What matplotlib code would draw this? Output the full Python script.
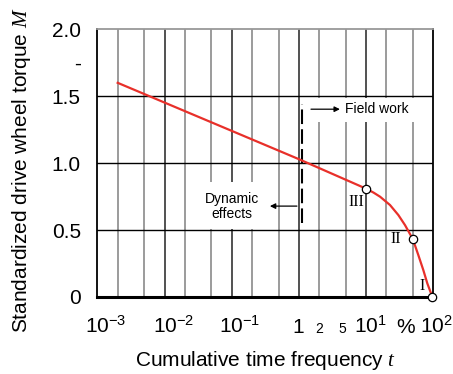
import matplotlib
matplotlib.use("Agg")
import matplotlib.pyplot as plt
from matplotlib.patches import Rectangle
from matplotlib.transforms import ScaledTranslation

plt.rcParams['font.family'] = ['Liberation Sans', 'DejaVu Sans']
plt.rcParams['mathtext.fontset'] = 'custom'
plt.rcParams['mathtext.rm'] = 'Liberation Sans'
plt.rcParams['mathtext.it'] = 'Liberation Serif:italic'

# ---- data ----
curve_t = [0.002, 1.0, 10.0, 13.0, 16.3, 22.9, 30.5, 38.3, 50.0, 60.5, 71.8, 82.3, 98.0]
curve_m = [1.60, 1.03, 0.81, 0.78, 0.749, 0.687, 0.612, 0.537, 0.433, 0.313, 0.201, 0.102, 0.0]
point_t = [98.0, 50.0, 10.0]
point_m = [0.0, 0.433, 0.81]
point_labels = ['I', 'II', 'III']
label_t = [68.5, 28.1, 7.1]
label_m = [0.085, 0.433, 0.709]

xtick_vals = [1e-3, 1e-2, 1e-1, 1, 2, 5, 10, 50, 100]
xtick_labels = [r'$10^{-3}$', r'$10^{-2}$', r'$10^{-1}$', '1', '2', '5', r'$10^{1}$', '%', r'$10^{2}$']
ytick_vals = [0, 0.5, 1.0, 1.5, 1.75, 2.0]
ytick_labels = ['0', '0.5', '1.0', '1.5', '-', '2.0']
major_grid = [1e-2, 1e-1, 1, 10]
minor_grid = [2e-3, 5e-3, 2e-2, 5e-2, 2e-1, 5e-1, 2, 5, 20, 50]
hgrid = [0.5, 1.0, 1.5]
boundary_t = 1.11

# ---- figure ----
fig = plt.figure(figsize=(4.53, 3.74), dpi=100)
ax = fig.add_axes([0.2152, 0.2059, 0.9558 - 0.2152, 0.9217 - 0.2059])
ax.set_xscale('log')
ax.set_xlim(1e-3, 1e2)
ax.set_ylim(0, 2.0)

for x in major_grid:
    ax.axvline(x, color='#333333', lw=1.2, zorder=1)
for x in minor_grid:
    ax.axvline(x, color='#8a8a8a', lw=1.2, zorder=1)
for y in hgrid:
    ax.axhline(y, color='black', lw=1.0, zorder=1)

# white boxes behind annotations
ax.add_patch(Rectangle((1.23, 1.306), 76.4 - 1.23, 1.49 - 1.306, facecolor='white',
                       edgecolor='none', zorder=2))
ax.add_patch(Rectangle((0.0398, 0.505), 0.313 - 0.0398, 0.858 - 0.505, facecolor='white',
                       edgecolor='none', zorder=2))

ax.plot([boundary_t, boundary_t], [0.55, 1.44], color='black', lw=1.5,
        dashes=(7, 2.5), zorder=3)

ax.annotate('', xy=(4.1, 1.403), xytext=(1.52, 1.403),
            arrowprops=dict(arrowstyle='-|>', color='black', lw=0.9,
                            mutation_scale=8, shrinkA=0, shrinkB=0), zorder=4)
ax.text(4.93, 1.403, 'Field work', fontsize=10, ha='left', va='center', zorder=4)
ax.annotate('', xy=(0.371, 0.679), xytext=(0.938, 0.679),
            arrowprops=dict(arrowstyle='-|>', color='black', lw=0.9,
                            mutation_scale=8, shrinkA=0, shrinkB=0), zorder=4)
ax.text(0.101, 0.679, 'Dynamic\neffects', fontsize=10, ha='center', va='center',
        linespacing=1.1, zorder=4)

ax.plot(curve_t, curve_m, color='#e8302a', lw=1.6, zorder=5, clip_on=False)
ax.plot(point_t, point_m, 'o', ms=6, mfc='white', mec='black', mew=0.9,
        zorder=6, clip_on=False)
for t, m, s in zip(label_t, label_m, point_labels):
    ax.text(t, m, s, fontsize=11.5, family='Liberation Serif', ha='center',
            va='center', zorder=6)

# spines
ax.spines['bottom'].set_linewidth(2.2)
ax.spines['left'].set_linewidth(1.3)
ax.spines['right'].set_linewidth(1.3)
ax.spines['top'].set_color('#999999')
ax.spines['top'].set_linewidth(1.3)

# ticks
ax.set_xticks(xtick_vals)
ax.set_xticklabels(xtick_labels)
ax.xaxis.set_minor_locator(matplotlib.ticker.NullLocator())
ax.tick_params(axis='x', length=0, pad=26, labelsize=15)
offsets_px = [8, 9, 8, -1, 0, -3, 5, -7, 3]
small = {4, 5}
for i, lab in enumerate(ax.get_xticklabels()):
    lab.set_va('baseline')
    if i in small:
        lab.set_fontsize(10)
    lab.set_transform(lab.get_transform() + ScaledTranslation(offsets_px[i] / 100, 0,
                                                               fig.dpi_scale_trans))

ax.set_yticks(ytick_vals)
ax.set_yticklabels(ytick_labels)
ax.tick_params(axis='y', length=0, pad=12, labelsize=15)

ax.set_xlabel(r'Cumulative time frequency $t$', fontsize=15)
ax.xaxis.set_label_coords(0.5, -0.195)
ax.set_ylabel(r'Standardized drive wheel torque $M$', fontsize=15)
ax.yaxis.set_label_coords(-0.193, 0.474)

fig.savefig('out.png', dpi=100)
